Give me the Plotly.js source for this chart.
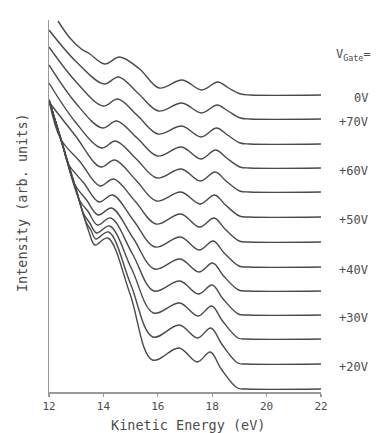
<!DOCTYPE html>
<html>
<head>
<meta charset="utf-8">
<script src="https://cdn.plot.ly/plotly-3.0.1.min.js"></script>
<style>html,body{margin:0;padding:0;background:#fff;}#chart{width:379px;height:433px;}</style>
</head>
<body>
<div id="chart"></div>
<script>
// Gate voltages (top curve to bottom curve) and the labels shown at right
const gateVoltages = ['0V', '+70V', '+65V', '+60V', '+55V', '+50V', '+45V', '+40V', '+35V', '+30V', '+25V', '+20V', '+15V'];
const shownLabels  = ['0V', '+70V', '', '+60V', '', '+50V', '', '+40V', '', '+30V', '', '+20V', ''];

// Kinetic energy (eV) and intensity (arb. units, offset spectra)
const e0V  = [12.33, 12.77, 13.19, 13.5, 14.05, 14.60, 15.33, 16.05, 16.90, 17.62, 18.20, 18.60, 19.05, 19.40, 22];
const i0V  = [371, 354, 343, 338, 328, 335, 323, 304, 312, 302, 310, 304, 298, 297, 297];
const e70V = [12, 13.01, 14.02, 14.56, 15.30, 16.03, 16.89, 17.61, 18.18, 18.58, 19.04, 19.39, 22];
const i70V = [362, 330, 308, 315, 298, 281, 289, 279, 287, 281, 274, 273, 273];
const e65V = [12, 13.00, 13.99, 14.53, 15.27, 16.01, 16.88, 17.59, 18.16, 18.56, 19.03, 19.38, 22];
const i65V = [345, 310, 286, 293, 276, 258, 266, 255, 264, 257, 249, 248, 248];
const e60V = [12, 12.98, 13.96, 14.49, 15.24, 15.99, 16.87, 17.58, 18.13, 18.53, 19.02, 19.37, 22];
const i60V = [327, 289, 264, 271, 254, 236, 245, 233, 242, 234, 225, 224, 224];
const e55V = [12, 12.97, 13.93, 14.45, 15.21, 15.97, 16.86, 17.56, 18.11, 18.51, 19.01, 19.36, 22];
const i55V = [309, 270, 244, 251, 233, 214, 223, 211, 220, 211, 201, 200, 200];
const e50V = [12, 12.95, 13.90, 14.42, 15.19, 15.95, 16.85, 17.55, 18.09, 18.49, 19.00, 19.35, 22];
const i50V = [290, 257, 225, 232, 212, 191, 200, 188, 197, 187, 176, 175, 175];
const e45V = [12, 12.43, 13.15, 13.87, 14.38, 15.16, 15.93, 16.84, 17.54, 18.07, 18.47, 18.99, 19.34, 22];
const i45V = [292, 253, 230, 206, 213, 191, 168, 178, 165, 174, 163, 151, 150, 150];
const e40V = [12, 12.5, 12.71, 13.28, 13.84, 14.34, 15.12, 15.90, 16.83, 17.52, 18.04, 18.44, 18.98, 19.33, 22];
const i40V = [292, 247, 228, 209, 190, 197, 171, 145, 155, 142, 151, 139, 126, 125, 125];
const e35V = [12, 12.5, 12.94, 13.38, 13.81, 14.30, 15.09, 15.88, 16.82, 17.51, 18.02, 18.42, 18.97, 19.32, 22];
const i35V = [292, 247, 208, 192, 177, 184, 154, 123, 133, 120, 129, 116, 102, 101, 101];
const e30V = [12, 12.5, 13.12, 13.45, 13.78, 14.27, 15.07, 15.86, 16.81, 17.49, 18.00, 18.40, 18.96, 19.31, 22];
const i30V = [292, 247, 192, 180, 167, 174, 138, 101, 111, 98, 107, 93, 78, 77, 77];
const e25V = [12, 12.5, 13.0, 13.26, 13.5, 13.75, 14.23, 15.04, 15.84, 16.80, 17.48, 17.98, 18.38, 18.95, 19.30, 22];
const i25V = [292, 247, 202, 179, 169, 159, 166, 123, 79, 89, 76, 86, 71, 54, 53, 53];
const e20V = [12, 12.5, 13.0, 13.36, 13.54, 13.72, 14.19, 15.00, 15.82, 16.79, 17.46, 17.95, 18.35, 18.94, 19.29, 22];
const i20V = [292, 247, 202, 170, 162, 153, 160, 108, 55, 67, 54, 64, 48, 29, 28, 28];
const e15V = [12, 12.5, 13.0, 13.47, 13.69, 14.16, 14.98, 15.80, 16.78, 17.45, 17.93, 18.33, 18.93, 19.28, 22];
const i15V = [292, 247, 202, 160, 147, 154, 98, 32, 44, 30, 40, 23, 4, 3, 3];

const xTicks = [12, 14, 16, 18, 20, 22];
const xTickText = ['12', '14', '16', '18', '20', '22'];

const energies = [e0V, e70V, e65V, e60V, e55V, e50V, e45V, e40V, e35V, e30V, e25V, e20V, e15V];
const intens   = [i0V, i70V, i65V, i60V, i55V, i50V, i45V, i40V, i35V, i30V, i25V, i20V, i15V];

const traces = energies.map((e, k) => ({
  x: e, y: intens[k], type: 'scatter', mode: 'lines', name: gateVoltages[k],
  line: {color: '#4a4a4a', width: 1.4, shape: 'spline', smoothing: 1},
  hoverinfo: 'skip'
}));

const FONT = 'DejaVu Sans Mono, Liberation Mono, monospace';
const TXT = '#4d4d4d';

const annotations = [];
shownLabels.forEach((lab, k) => {
  if (!lab) return;
  const tailY = intens[k][intens[k].length - 1];
  annotations.push({xref: 'paper', yref: 'y', x: 1.18, y: tailY - 3, text: lab, showarrow: false,
    xanchor: 'right', yanchor: 'middle', font: {family: FONT, size: 12, color: TXT}});
});
annotations.push({xref: 'paper', yref: 'paper', x: 1.19, y: 0.905, text: 'V<sub>Gate</sub>=', showarrow: false,
  xanchor: 'right', yanchor: 'middle', font: {family: FONT, size: 12, color: TXT}});
annotations.push({xref: 'paper', yref: 'paper', x: 0.511, y: -0.089, text: 'Kinetic Energy (eV)', showarrow: false,
  xanchor: 'center', yanchor: 'middle', font: {family: FONT, size: 13.5, color: TXT}});
annotations.push({xref: 'paper', yref: 'paper', x: -0.099, y: 0.508, text: 'Intensity (arb. units)', showarrow: false,
  textangle: -90, xanchor: 'center', yanchor: 'middle', font: {family: FONT, size: 13.5, color: TXT}});

const layout = {
  width: 379, height: 433,
  margin: {l: 49, r: 58, t: 20, b: 41, pad: 0},
  paper_bgcolor: '#fff', plot_bgcolor: '#fff',
  showlegend: false,
  xaxis: {range: [12, 22], tickvals: xTicks, ticktext: xTickText, ticks: 'outside', ticklen: 3,
    tickcolor: '#999', tickwidth: 1.2, showline: true, linecolor: '#999', linewidth: 1.5,
    showgrid: false, zeroline: false, fixedrange: true,
    tickfont: {family: FONT, size: 11, color: TXT}},
  yaxis: {range: [0, 372], showticklabels: false, ticks: '', showline: true, linecolor: '#999',
    linewidth: 1.5, showgrid: false, zeroline: false, fixedrange: true},
  annotations: annotations
};

Plotly.newPlot('chart', traces, layout, {displayModeBar: false, staticPlot: true});
</script>
</body>
</html>
